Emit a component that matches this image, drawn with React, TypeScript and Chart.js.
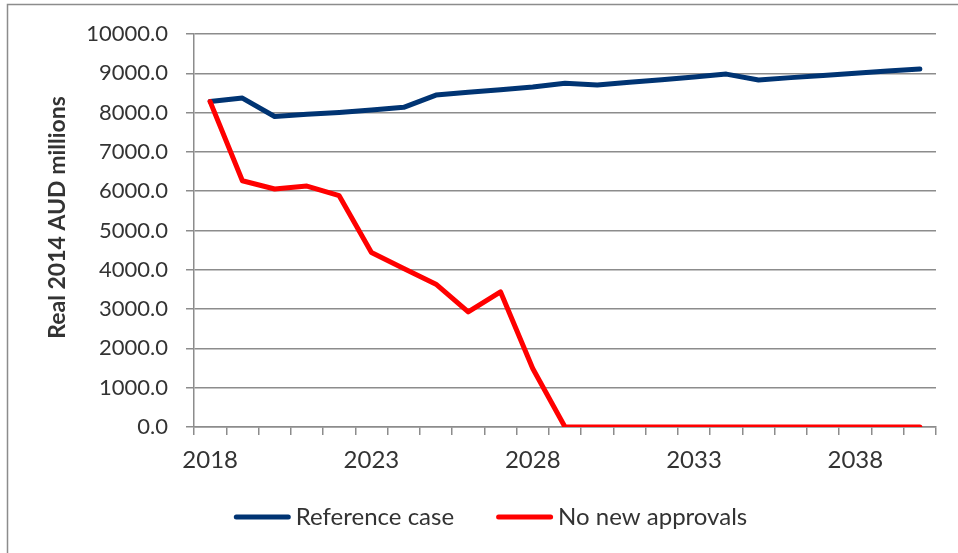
import React, { useEffect, useRef } from 'react';
import { Chart, registerables } from 'chart.js';

Chart.register(...registerables);

const years = [
  '2018', '2019', '2020', '2021', '2022', '2023', '2024', '2025', '2026', '2027', '2028', '2029',
  '2030', '2031', '2032', '2033', '2034', '2035', '2036', '2037', '2038', '2039', '2040',
];

const referenceCase = [
  8280, 8370, 7900, 7955, 8005, 8065, 8135, 8445, 8515, 8580, 8650, 8745,
  8700, 8770, 8835, 8905, 8980, 8830, 8890, 8945, 9000, 9060, 9110,
];

const noNewApprovals = [
  8280, 6265, 6055, 6130, 5885, 4440, 4035, 3635, 2930, 3440, 1490, 0,
  0, 0, 0, 0, 0, 0, 0, 0, 0, 0, 0,
];

const seriesNames = ['Reference case', 'No new approvals'];
const seriesColors = ['#003473', '#ff0000'];
const yAxisTitle = 'Real 2014 AUD millions';

const FONT = 'Lato, Carlito, "Noto Sans", sans-serif';
const GRID = '#8c8c8c';
const TEXT = '#333333';

const decorPlugin = {
  id: 'decor',
  afterDraw(chart: any) {
    const ctx = chart.ctx as CanvasRenderingContext2D;
    ctx.save();
    // outer frame
    ctx.strokeStyle = GRID;
    ctx.lineWidth = 1.5;
    ctx.strokeRect(7.5, 4.5, 970, 580);

    // y-axis title
    ctx.font = `bold 23px ${FONT}`;
    ctx.fillStyle = TEXT;
    ctx.textAlign = 'center';
    ctx.textBaseline = 'middle';
    ctx.translate(58, 217.5);
    ctx.rotate(-Math.PI / 2);
    ctx.fillText(yAxisTitle, 0, 0);
    ctx.setTransform(1, 0, 0, 1, 0, 0);

    // legend
    ctx.font = `24px ${FONT}`;
    const items = chart.data.datasets.map((ds: any) => ({
      label: ds.label as string,
      color: ds.borderColor as string,
      w: ctx.measureText(ds.label).width,
    }));
    const lineLen = 57;
    const gapText = 5;
    const gapItem = 42;
    const total =
      items.reduce((s: number, it: any) => s + lineLen + gapText + it.w, 0) +
      gapItem * (items.length - 1);
    let x = 490.5 - total / 2;
    const yLine = 517;
    items.forEach((it: any) => {
      ctx.strokeStyle = it.color;
      ctx.lineWidth = 5;
      ctx.lineCap = 'round';
      ctx.beginPath();
      ctx.moveTo(x + 2.5, yLine);
      ctx.lineTo(x + lineLen - 2.5, yLine);
      ctx.stroke();
      x += lineLen + gapText;
      ctx.fillStyle = TEXT;
      ctx.textAlign = 'left';
      ctx.textBaseline = 'alphabetic';
      ctx.fillText(it.label, x, 525);
      x += it.w + gapItem;
    });
    ctx.restore();
  },
};

export default function App() {
  const canvasRef = useRef<HTMLCanvasElement | null>(null);

  useEffect(() => {
    if (!canvasRef.current) return;
    const chart = new Chart(canvasRef.current, {
      type: 'line',
      data: {
        labels: years,
        datasets: [
          {
            label: seriesNames[0],
            data: referenceCase,
            borderColor: seriesColors[0],
            backgroundColor: seriesColors[0],
            borderWidth: 5,
            pointRadius: 0,
            tension: 0,
            borderJoinStyle: 'round',
            borderCapStyle: 'round',
            order: 1,
          },
          {
            label: seriesNames[1],
            data: noNewApprovals,
            borderColor: seriesColors[1],
            backgroundColor: seriesColors[1],
            borderWidth: 5,
            pointRadius: 0,
            tension: 0,
            borderJoinStyle: 'round',
            borderCapStyle: 'round',
            order: 0,
          },
        ],
      },
      options: {
        animation: false,
        responsive: false,
        devicePixelRatio: 1,
        layout: { padding: { top: 34, right: 22, bottom: 76, left: 0 } },
        plugins: {
          legend: { display: false },
          tooltip: { enabled: false },
          title: { display: false },
        },
        scales: {
          x: {
            type: 'category',
            offset: true,
            grid: {
              offset: true,
              drawOnChartArea: false,
              drawTicks: true,
              tickLength: 8,
              color: GRID,
              lineWidth: 1.5,
            },
            border: { display: true, color: GRID, width: 1.5 },
            ticks: {
              autoSkip: false,
              maxRotation: 0,
              minRotation: 0,
              padding: 11,
              color: TEXT,
              font: { family: FONT, size: 24 },
              callback: (_v: any, i: number) => (i % 5 === 0 ? years[i] : ''),
            },
            afterFit: (s: any) => {
              s.height = 50;
            },
          },
          y: {
            min: 0,
            max: 10000,
            ticks: {
              stepSize: 1000,
              padding: 18,
              color: TEXT,
              font: { family: FONT, size: 22 },
              callback: (v: any) => Number(v).toFixed(1),
            },
            grid: {
              color: GRID,
              lineWidth: 1.5,
              drawTicks: true,
              tickLength: 8,
            },
            border: { display: true, color: GRID, width: 1.5 },
            title: { display: false },
            afterFit: (s: any) => {
              s.width = 194;
            },
          },
        },
      },
      plugins: [decorPlugin],
    } as any);
    return () => chart.destroy();
  }, []);

  return (
    <div style={{ position: 'absolute', left: 0, top: 0, width: 958, height: 553, background: '#fff' }}>
      <canvas ref={canvasRef} width={958} height={553} style={{ display: 'block' }} />
    </div>
  );
}
